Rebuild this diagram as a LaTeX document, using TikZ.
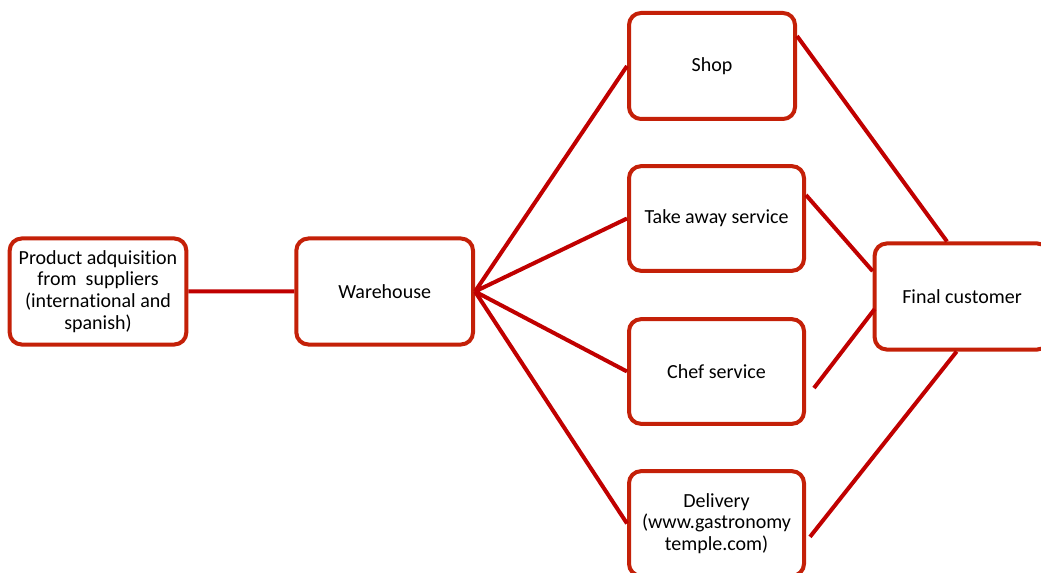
\documentclass[tikz,border=0pt]{standalone}
\usepackage{fontspec}
\setmainfont{Carlito}[RawFeature={-liga}]
\usetikzlibrary{positioning}
\definecolor{boxred}{RGB}{196,32,8}
\definecolor{linered}{RGB}{192,0,0}
\tikzset{
every node/.style={font=\fontsize{15}{16.3}\selectfont}, % text of all boxes
stage/.style={draw=boxred, line width=3pt, rounded corners=9pt, fill=white, align=center,
  minimum width=132.5pt, minimum height=79.5pt, inner sep=2pt}, % one box of the chain
link/.style={draw=linered, line width=3pt}, % connecting lines
}

\begin{document}
\begin{tikzpicture}[x=0.75pt, y=-0.75pt]
\useasboundingbox (0,0) rectangle (1041,573);
\node[stage] (prod) at (98,291.5) {Product adquisition\\from\ \ suppliers\\(international and\\spanish)};
\node[stage, right=79.5pt of prod] (wh) {Warehouse};
\node[stage, minimum width=124.5pt, minimum height=79.5pt] (shop) at (712,66) {Shop};
\node[stage, minimum width=131.25pt, minimum height=78.5pt] (take) at (716.5,218.5) {Take away service};
\node[stage, minimum width=131.25pt, minimum height=78.5pt] (chef) at (716.5,371.5) {Chef service};
\node[stage, minimum width=131.25pt, minimum height=78.5pt] (deliv) at (716.5,523.5) {Delivery\\(www.gastronomy\\temple.com)};
\node[stage, minimum width=131pt] (final) at (962,296.5) {Final customer};
\draw[link] (prod) -- (wh)
(wh.east) -- (shop.west)
(wh.east) -- (take.west)
(wh.east) -- (chef.west)
(wh.east) -- (deliv.west)
([yshift=22.5pt]shop.east) -- ([xshift=-11.25pt]final.north)
([yshift=17.6pt]take.east) -- ([yshift=19pt]final.west)
([xshift=6pt,yshift=-12.4pt]chef.east) -- ([xshift=1.5pt,yshift=-9.4pt]final.west)
([xshift=3pt,yshift=-10pt]deliv.east) -- ([xshift=-4pt]final.south);
\end{tikzpicture}
\end{document}
